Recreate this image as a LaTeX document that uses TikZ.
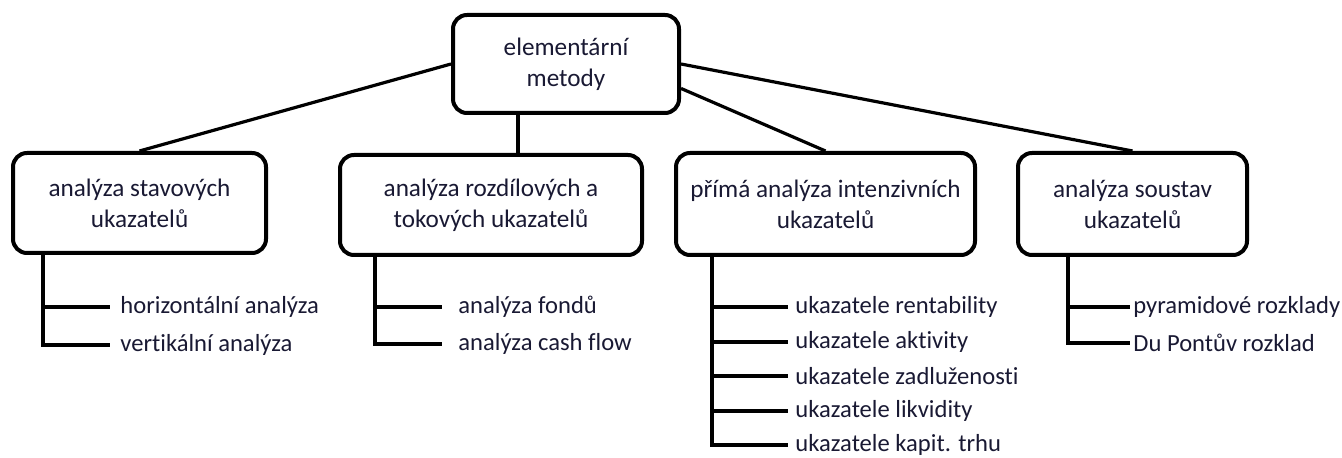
\documentclass[tikz,border=0pt]{standalone}
\usepackage{fontspec}
\setmainfont{Carlito}[Ligatures=NoCommon]
\usetikzlibrary{calc}
\definecolor{TextClr}{rgb}{0.1,0.1,0.2}

\begin{document}
\begin{tikzpicture}[x=0.5pt,y=-0.5pt,
  box/.style={draw,rounded corners=7pt,line width=2pt,align=center,text=TextClr,
    font=\fontsize{12.6}{15.5}\selectfont,inner sep=0pt},
  item/.style={anchor=west,text=TextClr,font=\fontsize{12.3}{15}\selectfont,inner xsep=#1,inner ysep=0pt},
  item/.default=2pt,
  link/.style={line width=1.6pt},
  stem/.style={line width=2pt}]
\useasboundingbox (0,0) rectangle (1342,458);

\node[box,minimum width=113pt,minimum height=49pt] (root) at (566,64) {elementární\\metody};
\node[box,minimum width=126.5pt,minimum height=50pt] (b1) at (139.5,203) {analýza stavových\\ukazatelů};
\node[box,minimum width=151pt,minimum height=50pt] (b2) at (491,205) {analýza rozdílových a\\tokových ukazatelů};
\node[box,minimum width=149.5pt,minimum height=51pt] (b3) at (825.5,204) {přímá analýza intenzivních\\ukazatelů};
\node[box,minimum width=114.5pt,minimum height=51pt] (b4) at (1132.5,204) {analýza soustav\\ukazatelů};

\coordinate (r2) at ($(root.south)+(-48,0)$);
\draw[link] (root.west) -- (b1.north);
\draw[link] (r2) -- (r2 |- b2.north);
\draw[link] (root.-12) -- (b3.north);
\draw[link] (root.east) -- (b4.north);

\coordinate (s1) at ($(b1.south west)+(32,0)$);
\coordinate (s2) at ($(b2.south west)+(37,0)$);
\coordinate (s3) at ($(b3.south west)+(38,0)$);
\coordinate (s4) at ($(b4.south west)+(52,0)$);

\node[item=5pt] (h1) at (110,307) {horizontální analýza};
\node[item=5pt] (v1) at (110,345) {vertikální analýza};
\draw[stem] (s1) |- (h1.west);
\draw[stem] (s1) |- (v1.west);

\node[item=8pt] (f2) at (442,307) {analýza fondů};
\node[item=8pt] (c2) at (442,344) {analýza cash flow};
\draw[stem] (s2) |- (f2.west);
\draw[stem] (s2) |- (c2.west);

\foreach \t [count=\i] in {ukazatele rentability,ukazatele aktivity,ukazatele zadluženosti,ukazatele likvidity,ukazatele kapit. trhu}
  \node[item=3.5pt] (p\i) at (788,{307+34.6*(\i-1)}) {\t};
\foreach \i in {1,...,5}
  \draw[stem] (s3) |- (p\i.west);

\node[item=1.5pt] (r4) at (1130,307) {pyramidové rozklady};
\node[item=1.5pt] (d4) at (1130,343) {Du Pontův rozklad};
\draw[stem] (s4) |- (r4.west);
\draw[stem] (s4) |- (d4.west);

\end{tikzpicture}
\end{document}
